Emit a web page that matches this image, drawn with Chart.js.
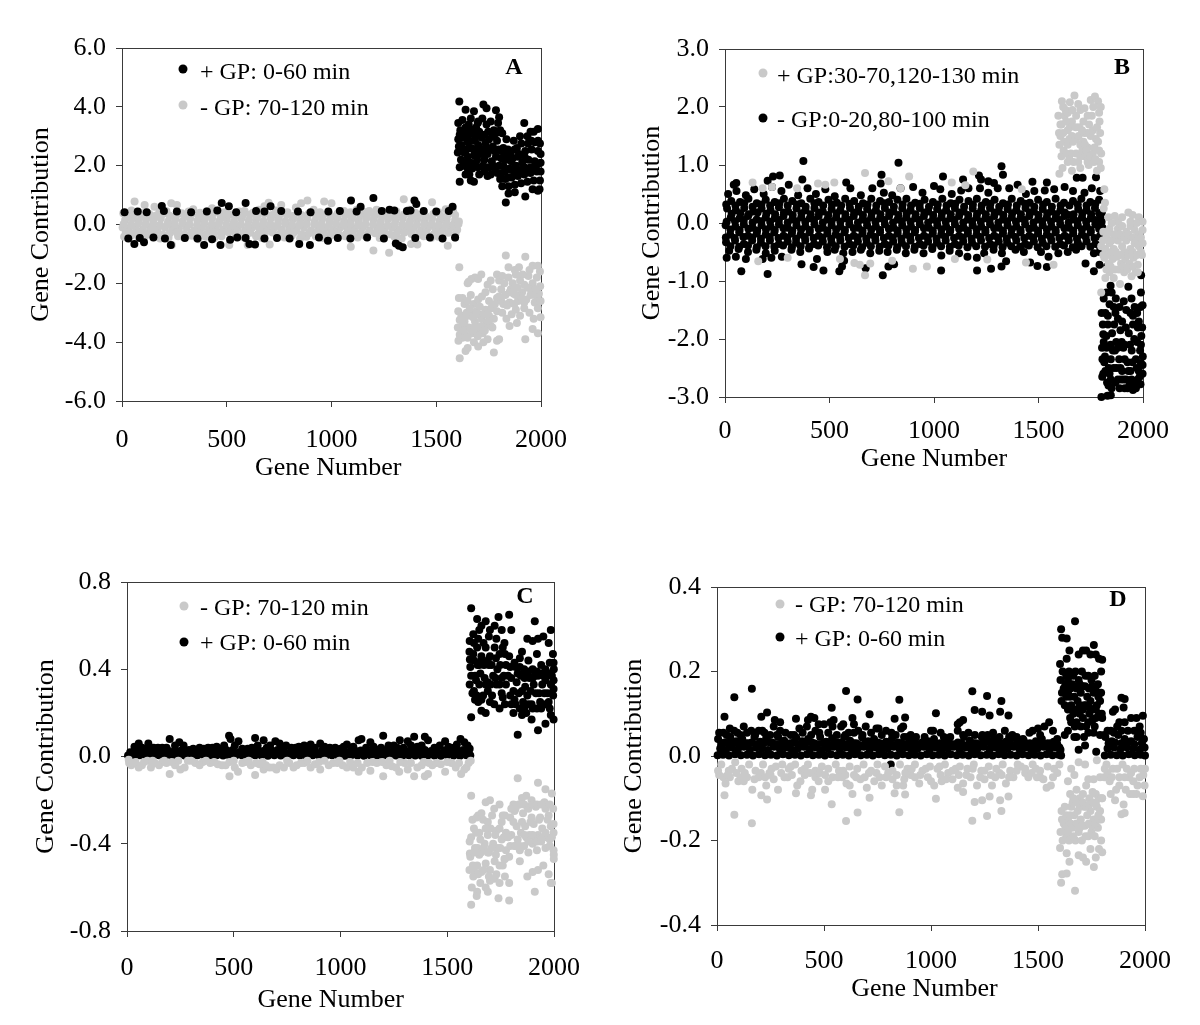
<!DOCTYPE html>
<html><head><meta charset="utf-8">
<script src="https://cdn.jsdelivr.net/npm/chart.js@4"></script>
<style>
html,body{margin:0;padding:0;background:#fff;width:1200px;height:1025px;overflow:hidden}
canvas{position:absolute}
.t{position:absolute;font-family:"Liberation Serif",serif;font-size:24px;color:#000;white-space:nowrap;line-height:26px;transform:translateY(-13px)}
.l{position:absolute;font-family:"Liberation Serif",serif;font-weight:bold;font-size:24px;color:#000;line-height:26px;transform:translate(-50%,-13px)}
.d{position:absolute;width:9px;height:9px;border-radius:50%;transform:translate(-50%,-50%)}
</style></head><body>
<script>
const xTicks=[0,500,1000,1500,2000];
const aTicks=[-6,-4,-2,0,2,4,6];
const bTicks=[-3,-2,-1,0,1,2,3];
const cTicks=[-0.8,-0.4,0,0.4,0.8];
const dTicks=[-0.4,-0.2,0,0.2,0.4];
// Panel A, + GP (black): flat x,y pairs
const aPlus=[190,.63,476,.73,510,.62,590,.73,709,.62,1093,.82,1200,.9,1139,.6,1277,.5,1396,.82,1405,.7,1377,.48,1578,.6,
12,.42,75,.44,118,.42,200,.46,262,.44,330,.42,405,.44,455,.48,545,.42,640,.46,680,.44,760,.46,840,.44,900,.42,985,.44,1040,.46,1120,.44,1240,.46,1300,.48,1360,.46,1440,.46,1500,.44,1560,.46,
59,-.66,105,-.6,233,-.7,392,-.7,470,-.7,608,-.66,635,-.68,846,-.66,897,-.7,1322,-.72,1340,-.77,1307,-.65,516,-.52,983,-.55,
30,-.48,85,-.46,150,-.44,205,-.48,300,-.46,360,-.48,430,-.5,550,-.44,590,-.46,680,-.48,740,-.46,800,-.48,940,-.44,1030,-.46,1090,-.48,1170,-.44,1250,-.48,1400,-.46,1470,-.44,1530,-.48,1590,-.44,
1610,4.18,1640,3.9,1665,3.6,1680,3.85,1700,3.5,1725,4.08,1740,3.95,1785,3.88,1800,3.65,1815,3.1,1605,3.45,1615,3.2,1625,3.55,1640,3.3,1655,3.4,1670,3.1,1690,3.3,1705,3.15,1720,3.6,1740,3.4,1760,3.5,1775,3.2,1795,3.45,
1605,2.9,1620,2.7,1635,2.95,1650,2.8,1668,2.6,1685,2.85,1700,2.7,1718,2.95,1735,2.75,1752,2.9,1770,2.65,1790,2.85,1810,2.5,1603,2.45,1618,2.2,1632,2.45,1650,2.3,1665,2.1,1680,2.35,1695,2.2,1712,2.4,1730,2.2,1745,2.4,1765,2.15,1785,2.3,
1612,1.45,1640,1.7,1650,1.9,1665,1.5,1680,1.45,1700,1.95,1730,1.8,1745,1.65,1760,1.7,1780,1.9,
1800,2,1820,2.6,1835,2.9,1855,2.4,1870,2.85,1885,2.6,1900,3,1920,3.45,1935,3,1950,3.15,1965,3.15,1985,3.25,1995,2.75,1805,1.55,1820,2,1835,2.2,1850,1.9,1865,2.25,1880,2,1895,2.4,1910,2.1,1925,2.5,1940,2.2,1955,2.55,1970,2.15,1985,2.5,1998,2.1,
1815,1.3,1830,1.55,1845,1.3,1860,1.6,1875,1.35,1890,1.65,1905,1.4,1920,1.7,1935,1.45,1950,1.75,1965,1.5,1980,1.8,1995,1.5,1832,.75,1845,1.05,1875,1.1,1925,.95,1960,1.2,1985,1.15,1993,1.2,
1612,3.05,1630,3.1,1648,3.05,1662,3.25,1682,3.05,1698,3.45,1712,3,1730,3.05,1748,3.15,1768,3,1785,3.1,1805,3.2,1608,2.65,1628,2.5,1645,2.55,1660,2.85,1678,2.55,1692,2.5,1708,2.55,1725,2.55,1742,2.6,1758,2.55,1778,2.5,1798,2.55,1612,1.95,1628,2,1642,2.1,1658,1.7,1672,1.9,1688,2,1705,1.7,1722,2,1738,1.95,1755,1.95,1772,2,1792,1.75,
1810,2.25,1826,2.35,1842,2.55,1858,2.15,1874,2.55,1890,2.3,1906,2.75,1922,2.3,1938,2.75,1954,2.85,1970,2.8,1986,2.85,1998,2.4,1812,1.75,1828,1.8,1844,1.6,1858,1.85,1874,1.8,1890,1.85,1904,1.85,1920,1.95,1936,1.9,1952,1.95,1968,1.85,1984,2.05,1998,1.8];
// Panel A, - GP (gray)
const aMinus=[6,.38,45,.48,60,.78,88,.4,108,.66,130,.36,155,.6,178,.42,212,.45,235,.72,262,.66,285,.38,318,.44,340,.52,372,.4,405,.46,430,.55,458,.48,488,.42,520,.34,560,.44,585,.46,625,.4,652,.5,680,.62,700,.74,735,.48,760,.66,790,.42,830,.58,855,.72,885,.82,915,.5,945,.42,965,.78,1000,.72,1030,.38,1060,.46,1090,.42,1120,.5,1150,.44,1180,.46,1215,.5,1245,.42,1280,.36,1310,.44,1345,.86,1370,.5,1400,.4,1440,.42,1480,.76,1510,.42,1545,.52,1580,.48,
15,.15,50,.2,80,.12,115,.18,150,.14,185,.2,220,.1,255,.18,290,.12,325,.2,360,.14,395,.16,430,.2,465,.12,500,.18,535,.1,570,.2,605,.14,640,.18,675,.12,710,.2,745,.16,780,.12,815,.18,850,.14,885,.2,920,.1,955,.18,990,.14,1025,.2,1060,.12,1095,.18,1130,.14,1165,.2,1200,.16,1235,.1,1270,.18,1305,.14,1340,.2,1375,.12,1410,.18,1445,.14,1480,.2,1515,.12,1550,.18,1590,.15,1608,.1,
3,-.1,30,-.14,66,-.1,100,-.18,135,-.12,170,-.16,205,-.1,240,-.18,272,-.14,308,-.1,345,-.2,380,-.12,415,-.16,448,-.1,482,-.18,518,-.14,552,-.12,588,-.2,622,-.1,658,-.16,692,-.14,728,-.1,762,-.18,798,-.12,832,-.16,868,-.1,902,-.2,938,-.14,972,-.12,1008,-.18,1042,-.1,1078,-.16,1112,-.14,1148,-.1,1182,-.2,1218,-.12,1252,-.16,1288,-.1,1322,-.18,1358,-.14,1392,-.12,1428,-.2,1462,-.1,1498,-.16,1532,-.14,1568,-.1,1600,-.18,
10,-.42,42,-.38,78,-.44,110,-.4,145,-.36,182,-.48,222,-.45,238,-.7,268,-.4,295,-.44,332,-.38,365,-.5,400,-.42,440,-.46,475,-.4,512,-.7,545,-.38,582,-.44,600,-.7,640,-.4,668,-.46,705,-.68,740,-.4,775,-.44,810,-.38,850,-.48,880,-.42,925,-.4,958,-.46,995,-.38,1030,-.44,1065,-.4,1092,-.76,1125,-.44,1160,-.38,1200,-.88,1230,-.46,1275,-.96,1300,-.42,1335,-.48,1380,-.66,1410,-.68,1440,-.4,1475,-.46,1510,-.42,1555,-.72,1590,-.45,
1610,-1.45,1625,-2.5,1650,-2,1668,-1.85,1685,-1.8,1715,-1.7,1760,-1.9,1790,-1.7,1800,-1.9,1832,-1.05,1845,-1.45,1875,-1.55,1895,-1.45,1925,-1.1,1960,-1.4,1985,-1.4,1995,-1.6,
1605,-2.95,1620,-3.1,1635,-2.7,1650,-2.6,1665,-2.4,1680,-2.7,1700,-2.55,1718,-2.45,1735,-2.3,1752,-2.6,1770,-2.2,1790,-2.5,1810,-2.2,1825,-2,1845,-1.8,1865,-2,1880,-1.7,1900,-1.9,1920,-2.05,1940,-1.75,1960,-2,1980,-1.8,1996,-2.1,
1603,-3.5,1618,-3.55,1635,-3.3,1650,-3.1,1668,-3,1685,-3.3,1700,-3.05,1718,-3.2,1735,-2.9,1752,-3.1,1770,-2.8,1790,-2.95,1810,-2.6,1830,-2.4,1850,-2.65,1870,-2.35,1890,-2.6,1910,-2.3,1930,-2.55,1950,-2.4,1970,-2.65,1990,-2.35,
1606,-3.95,1625,-3.85,1640,-3.75,1655,-3.5,1672,-3.7,1690,-3.65,1705,-3.5,1722,-3.7,1740,-3.4,1760,-3.45,1775,-3.2,1815,-3,1835,-3.2,1860,-3.05,1880,-2.9,1900,-3.1,1920,-2.85,1945,-3,1965,-3.2,1985,-2.85,1998,-3.15,
1612,-4.55,1640,-4.3,1650,-4.2,1680,-4,1700,-4.15,1725,-4,1745,-3.9,1775,-4.35,1790,-3.95,1800,-3.9,1850,-3.45,1885,-3.35,1925,-3.9,1960,-3.55,1985,-3.7,
1608,-2.5,1612,-3.25,1628,-3.4,1645,-3,1660,-2.85,1675,-3.15,1692,-2.95,1708,-2.8,1725,-3.05,1745,-3.05,1762,-2.85,1780,-2.7,1800,-2.45,1820,-2.7,1838,-2.75,1856,-2.2,1872,-2.7,1888,-2.15,1904,-2.45,1920,-2.65,1936,-2.15,1952,-2.2,1968,-2.4,1984,-2.6,1998,-2.6,1612,-3.75,1632,-3.6,1650,-3.85,1665,-3.55,1680,-3.5,1698,-3.8,1715,-3.45,1732,-3.6,1750,-3.3,1768,-3.5,1815,-1.75,1850,-2.3,1880,-2.4,1912,-1.7,1945,-1.55,1975,-2.2,1655,-1.95,1700,-1.85,1745,-2.05];
// Panel A, gray band interior, densely overlapping dots
const aMinusBand=[22,.3,58,.34,92,.28,126,.32,160,.3,196,.36,228,.3,262,.34,298,.28,332,.36,366,.3,400,.32,436,.38,470,.3,506,.34,540,.28,576,.32,610,.34,646,.3,680,.36,716,.32,750,.3,786,.34,820,.3,856,.32,890,.36,926,.28,960,.32,996,.3,1030,.26,1066,.32,1100,.3,1136,.34,1170,.32,1206,.3,1240,.3,1276,.28,1310,.32,1346,.34,1380,.3,1416,.32,1450,.28,1486,.36,1520,.3,1556,.34,1590,.32,
8,.02,44,-.01,78,.03,112,0,148,.02,182,-.02,218,.01,252,-.01,288,.03,322,0,358,-.02,392,.02,428,0,462,.03,498,-.01,532,.02,568,0,602,-.03,638,.02,672,0,708,.01,742,-.02,778,.03,812,0,848,-.01,882,.02,918,0,952,.01,988,-.02,1022,.03,1058,0,1092,.02,1128,-.01,1162,.01,1198,0,1232,.02,1268,-.03,1302,.01,1338,0,1372,.02,1408,-.01,1442,0,1478,.02,1512,-.02,1548,.01,1582,0,1606,.02,
18,-.28,54,-.3,88,-.26,124,-.32,158,-.28,194,-.34,228,-.3,262,-.27,298,-.32,332,-.28,368,-.3,402,-.33,438,-.28,472,-.3,508,-.26,542,-.32,578,-.3,612,-.28,648,-.33,682,-.3,718,-.27,752,-.32,788,-.3,822,-.26,858,-.33,892,-.3,928,-.28,962,-.32,998,-.27,1032,-.3,1068,-.33,1102,-.28,1138,-.3,1172,-.32,1208,-.3,1242,-.28,1278,-.33,1312,-.3,1348,-.27,1382,-.32,1418,-.3,1452,-.26,1488,-.33,1522,-.3,1558,-.28,1592,-.32];
// Panel B, + GP (gray)
const bPlus=[670,.86,1188,.89,881,.8,1085,.7,132,.7,523,.7,782,.72,225,.62,445,.68,480,.66,1150,.65,840,.6,345,.6,180,.6,1420,.58,
670,-.9,899,-.79,966,-.75,619,-.69,159,-.66,1572,-.72,645,-.72,695,-.7,550,-.62,300,-.6,800,-.65,1100,-.62,1440,-.68,1255,-.63,
1600,.85,1615,.95,1660,.9,1700,.95,1740,1,1780,.9,1790,1.05,1598,1.55,1620,1.25,1640,1.05,1680,1.2,1720,1.15,1760,1.2,1800,1.2,
1595,1.85,1612,2.1,1630,1.95,1650,2.08,1672,2.2,1700,1.95,1720,1.98,1750,2.12,1770,2.18,1785,2.1,1798,2,1610,1.7,1625,1.85,1640,1.6,1660,1.75,1680,1.85,1695,1.65,1715,1.75,1735,1.55,1755,1.85,1775,1.45,
1605,1.5,1622,1.4,1640,1.35,1660,1.5,1680,1.45,1700,1.35,1715,1.4,1735,1.3,1750,1.5,1768,1.3,1785,1.4,1600,1.35,1655,1.2,1700,1.15,1735,1.05,1765,1.05,1650,1.65,1720,1.55,1790,1.25,1795,1.55,
1815,.58,1818,.35,1812,.25,1835,.1,1865,.12,1880,.02,1930,.18,1950,.14,1980,.1,1998,.02,
1810,-.15,1825,-.25,1840,-.1,1860,-.2,1880,-.1,1900,-.05,1920,-.15,1940,-.05,1960,-.12,1980,-.2,1998,-.12,1800,-.4,1820,-.45,1840,-.35,1860,-.45,1880,-.3,1900,-.4,1920,-.3,1940,-.45,1960,-.35,1980,-.4,1998,-.35,
1815,-.6,1835,-.7,1855,-.62,1875,-.58,1895,-.7,1915,-.62,1935,-.7,1955,-.6,1975,-.72,1995,-.55,1820,-.95,1840,-.85,1860,-.95,1890,-1.05,1910,-.85,1945,-.92,1965,-.85,1800,-1.2,
1605,1.7,1618,1.55,1632,1.75,1648,1.45,1665,1.4,1678,1.65,1692,1.5,1708,1.6,1722,1.35,1742,1.7,1760,1.6,1780,1.65,1792,1.75,1610,1.15,1632,1.2,1648,1.1,1668,1.05,1690,1.05,1710,1.25,1728,1.25,1748,1.15,1772,1.1,1798,.95,1618,2,1640,1.9,1662,1.95,1690,2.05,1735,1.85,1762,2,1790,1.9,
1808,-.3,1830,-.15,1850,-.3,1870,-.2,1890,-.2,1910,-.25,1930,-.2,1950,-.25,1970,-.3,1990,-.25,1810,-.55,1830,-.55,1850,-.5,1870,-.5,1890,-.55,1910,-.5,1930,-.55,1950,-.5,1970,-.55,1990,-.5,1825,-.8,1845,-.75,1865,-.8,1885,-.8,1905,-.75,1925,-.8,1950,-.75,1975,-.85,1850,0,1900,.1,1940,.02,1970,0];
// Panel B, - GP (black)
const bMinus=[375,1.07,830,1.04,1323,.98,1330,.83,749,.83,745,.68,230,.8,262,.82,204,.73,370,.75,1043,.8,1215,.82,1225,.75,1260,.72,1287,.69,1139,.75,1471,.71,1540,.7,1683,.78,1711,.78,1775,.79,42,.66,54,.69,
78,-.83,204,-.88,366,-.71,424,-.76,471,-.82,547,-.83,673,-.78,755,-.9,782,-.75,809,-.71,1034,-.82,1206,-.82,1273,-.79,1323,-.75,1495,-.74,1540,-.76,1765,-.83,1792,-.72,1828,-.75,1991,-.9,
15,.5,55,.55,100,.48,140,.58,185,.5,225,.62,270,.55,305,.66,350,.48,395,.6,435,.5,480,.58,525,.46,580,.7,600,.6,650,.48,705,.6,760,.52,800,.48,840,.6,900,.62,945,.52,1000,.64,1030,.58,1085,.5,1130,.56,1165,.6,1220,.6,1260,.52,1305,.6,1360,.6,1400,.66,1440,.5,1480,.55,1530,.56,1575,.58,1625,.62,1665,.55,1720,.52,1755,.6,1795,.55,
30,.38,72,.36,112,.42,152,.34,195,.4,238,.36,282,.42,322,.38,365,.34,408,.42,448,.36,495,.4,535,.35,575,.42,618,.38,660,.34,700,.42,742,.38,785,.36,825,.4,868,.42,910,.35,955,.4,995,.36,1040,.42,1080,.34,1122,.4,1165,.38,1205,.42,1248,.36,1290,.4,1330,.34,1372,.42,1415,.38,1458,.35,1498,.4,1540,.36,1582,.42,1622,.35,1665,.38,1705,.42,1748,.36,1790,.4,
10,.25,52,.22,92,.26,135,.2,175,.25,218,.22,258,.27,302,.2,342,.25,385,.22,428,.26,468,.2,510,.24,552,.22,598,.26,638,.2,680,.24,722,.22,765,.26,806,.2,848,.25,888,.22,932,.26,972,.2,1015,.24,1058,.22,1100,.26,1142,.2,1185,.25,1226,.22,1268,.26,1310,.2,1352,.24,1394,.22,1438,.26,1478,.2,1520,.24,1562,.2,1605,.22,1645,.14,1690,.24,1730,.22,1770,.26,1803,.18,
28,.1,70,.08,110,.12,152,.06,195,.1,238,.08,280,.12,322,.06,365,.1,406,.08,448,.12,490,.06,532,.1,575,.08,616,.12,658,.06,700,.1,742,.08,785,.12,826,.06,868,.1,910,.08,952,.12,995,.06,1036,.1,1078,.08,1120,.12,1162,.06,1204,.1,1246,.08,1288,.12,1330,.06,1372,.1,1414,.08,1456,.12,1498,.06,1540,.1,1582,.08,1624,.12,1668,.06,1708,.1,1750,.08,1796,.1,
3,-.04,50,-.06,90,-.02,132,-.08,175,-.04,218,-.06,258,-.02,300,-.08,342,-.04,385,-.06,428,-.02,468,-.08,510,-.04,552,-.06,595,-.02,638,-.08,680,-.04,722,-.06,765,-.02,806,-.08,848,-.04,890,-.06,932,-.02,975,-.08,1016,-.04,1058,-.06,1100,-.02,1142,-.08,1185,-.04,1226,-.06,1268,-.02,1310,-.08,1352,-.04,1394,-.06,1436,-.02,1478,-.08,1520,-.04,1562,-.06,1604,-.02,1646,-.08,1688,-.04,1730,-.06,1772,-.02,1806,-.08,
25,-.2,68,-.16,110,-.22,152,-.18,195,-.2,236,-.16,280,-.22,320,-.18,362,-.2,405,-.16,448,-.22,490,-.18,530,-.2,572,-.16,616,-.22,658,-.18,698,-.2,742,-.16,784,-.22,826,-.18,868,-.2,908,-.16,952,-.22,994,-.18,1035,-.2,1076,-.16,1120,-.22,1162,-.18,1204,-.2,1246,-.16,1288,-.22,1330,-.18,1370,-.2,1414,-.16,1456,-.22,1498,-.18,1540,-.2,1582,-.16,1625,-.22,1666,-.18,1708,-.2,1750,-.16,1795,-.22,
5,-.33,48,-.3,90,-.36,130,-.3,172,-.34,215,-.3,258,-.36,300,-.32,340,-.34,384,-.3,426,-.36,468,-.32,510,-.34,552,-.3,595,-.36,636,-.32,678,-.34,720,-.3,764,-.36,805,-.32,846,-.34,888,-.3,932,-.36,972,-.32,1014,-.34,1056,-.3,1100,-.36,1140,-.32,1182,-.34,1225,-.3,1268,-.36,1310,-.32,1350,-.34,1394,-.3,1436,-.36,1478,-.32,1520,-.34,1562,-.3,1604,-.36,1645,-.3,1688,-.34,1730,-.32,1772,-.36,
20,-.48,8,-.6,65,-.45,52,-.58,110,-.5,100,-.62,150,-.46,195,-.52,180,-.62,238,-.48,222,-.6,272,-.58,318,-.46,360,-.5,402,-.44,440,-.62,490,-.5,525,-.46,566,-.52,570,-.65,560,-.75,610,-.5,650,-.46,695,-.52,738,-.48,778,-.5,822,-.46,865,-.52,906,-.46,950,-.52,992,-.45,1035,-.56,1075,-.48,1120,-.52,1160,-.58,1205,-.6,1240,-.52,1285,-.46,1325,-.52,1345,-.66,1390,-.46,1430,-.5,1460,-.68,1512,-.5,1548,-.58,1595,-.52,1640,-.5,1680,-.46,1725,-.7,1765,-.52,1792,-.5,
1801,-3,1830,-2.98,1846,-2.97,1805,-2.65,1815,-2.4,1810,-1.92,1802,-1.55,1825,-1.2,1845,-1.08,1870,-1.3,1930,-1.1,1945,-1.3,1990,-1.2,1998,-1.42,
1820,-1.55,1840,-1.4,1860,-1.45,1880,-1.65,1900,-1.7,1920,-1.5,1940,-1.55,1960,-1.45,1980,-1.7,1996,-1.8,1812,-2.05,1832,-1.75,1852,-1.9,1872,-2.05,1892,-1.85,1912,-2.1,1932,-1.9,1952,-1.75,1972,-2.05,1992,-1.95,
1806,-2.35,1826,-2.15,1846,-2.35,1866,-2.2,1886,-2.35,1906,-2.15,1926,-2.4,1946,-2.2,1966,-2.35,1986,-2.2,1999,-2.3,1820,-2.55,1840,-2.6,1860,-2.5,1880,-2.7,1900,-2.55,1920,-2.7,1940,-2.55,1960,-2.75,1980,-2.55,1998,-2.6,
1835,-2.8,1850,-2.85,1895,-2.7,1912,-2.85,1935,-2.8,1952,-2.88,1975,-2.7,1988,-2.78,
1812,-1.3,1832,-1.6,1850,-1.2,1868,-1.55,1888,-1.45,1908,-1.35,1952,-1.6,1972,-1.55,1988,-1.45,1808,-1.75,1825,-1.95,1845,-2.1,1862,-1.75,1880,-2.15,1898,-2.05,1918,-1.8,1938,-2.1,1958,-2,1975,-1.8,1990,-2.1,1804,-2.15,1818,-2.3,1836,-2.5,1856,-2.2,1874,-2.5,1892,-2.5,1912,-2.35,1930,-2.55,1950,-2.4,1970,-2.5,1990,-2.42,1810,-2.6,1828,-2.75,1846,-2.7,1868,-2.75,1888,-2.85,1908,-2.7,1926,-2.85,1945,-2.7,1966,-2.85,1984,-2.65,1998,-2.45];
// Panel B, black band interior
const bMinusBand=[6,.32,50,.3,92,.34,132,.28,174,.32,216,.3,260,.34,300,.3,344,.32,386,.28,428,.34,470,.3,512,.32,556,.3,596,.33,640,.28,682,.32,724,.3,764,.34,808,.28,850,.32,890,.3,932,.33,976,.28,1018,.32,1060,.3,1102,.33,1144,.28,1186,.32,1228,.3,1270,.33,1312,.28,1354,.32,1396,.3,1436,.33,1480,.28,1522,.32,1564,.28,1606,.3,1648,.3,1688,.32,1730,.3,1772,.33,
32,.16,74,.17,114,.15,156,.18,198,.16,240,.15,282,.18,324,.14,366,.17,410,.15,450,.18,494,.14,534,.17,576,.15,618,.18,660,.14,702,.17,744,.15,786,.18,830,.14,870,.17,912,.15,954,.18,996,.14,1038,.17,1080,.15,1122,.18,1164,.14,1206,.16,1248,.15,1290,.18,1332,.14,1374,.17,1416,.15,1458,.18,1500,.14,1542,.17,1584,.15,1626,.18,1668,.15,1710,.17,1752,.15,1790,.17,
8,.02,48,.03,90,.05,132,.01,174,.03,216,.02,258,.05,300,.01,342,.03,384,.02,426,.05,468,.01,510,.03,552,.02,594,.05,636,.01,678,.03,720,.02,762,.05,804,.01,846,.03,888,.02,930,.05,972,.01,1014,.03,1056,.02,1098,.05,1140,.01,1182,.03,1224,.02,1266,.05,1308,.01,1350,.03,1392,.02,1434,.05,1476,.01,1518,.03,1560,.02,1602,.05,1644,.01,1686,.03,1728,.02,1770,.05,1802,.02,
26,-.11,70,-.12,112,-.1,154,-.13,196,-.11,238,-.12,280,-.09,322,-.13,364,-.11,406,-.12,448,-.1,490,-.13,532,-.11,574,-.12,616,-.09,658,-.13,700,-.11,742,-.12,784,-.1,826,-.13,868,-.11,910,-.12,952,-.09,994,-.13,1036,-.11,1078,-.12,1120,-.1,1162,-.13,1204,-.11,1246,-.12,1288,-.09,1330,-.13,1372,-.11,1414,-.12,1456,-.1,1498,-.13,1540,-.11,1582,-.12,1624,-.09,1666,-.13,1708,-.11,1750,-.12,1790,-.1,
4,-.25,46,-.26,88,-.24,130,-.25,172,-.27,214,-.24,256,-.26,298,-.25,340,-.27,382,-.24,424,-.26,466,-.25,508,-.27,550,-.24,592,-.26,634,-.25,676,-.27,718,-.24,760,-.26,802,-.25,844,-.27,886,-.24,928,-.26,970,-.25,1012,-.27,1054,-.24,1096,-.26,1138,-.25,1180,-.27,1222,-.24,1264,-.26,1306,-.25,1348,-.27,1390,-.24,1432,-.26,1474,-.25,1516,-.27,1558,-.24,1600,-.26,1642,-.25,1684,-.27,1726,-.24,1768,-.26,1802,-.25,
26,-.4,68,-.41,110,-.39,152,-.42,194,-.4,236,-.41,278,-.39,320,-.42,362,-.4,404,-.41,446,-.39,488,-.42,530,-.4,572,-.41,614,-.39,656,-.42,698,-.4,740,-.41,782,-.39,824,-.42,866,-.4,908,-.41,950,-.39,992,-.42,1034,-.4,1076,-.41,1118,-.39,1160,-.42,1202,-.4,1244,-.41,1286,-.39,1328,-.42,1370,-.4,1412,-.41,1454,-.39,1496,-.42,1538,-.4,1580,-.41,1622,-.39,1664,-.42,1706,-.4,1748,-.41,1790,-.39];
// Panel C, - GP (gray)
const cMinus=[8,-.015,40,-.025,70,-.04,95,-.02,130,-.03,165,-.025,200,-.08,225,-.04,250,-.06,285,-.02,320,-.03,355,-.025,390,-.03,425,-.035,462,-.04,480,-.09,505,-.05,520,-.07,555,-.025,600,-.085,640,-.06,668,-.05,700,-.06,735,-.05,760,-.03,795,-.04,830,-.03,860,-.05,905,-.06,945,-.04,985,-.03,1030,-.05,1085,-.07,1100,-.05,1140,-.065,1200,-.09,1170,-.03,1240,-.045,1275,-.07,1315,-.06,1345,-.09,1380,-.04,1395,-.09,1410,-.08,1450,-.03,1490,-.07,1540,-.05,1565,-.08,1590,-.05,
20,-.04,55,-.05,112,-.05,150,-.04,185,-.03,270,-.05,340,-.04,408,-.025,445,-.04,540,-.03,580,-.04,620,-.035,650,-.04,685,-.05,715,-.04,780,-.05,815,-.03,880,-.035,925,-.02,965,-.03,1010,-.04,1060,-.05,1125,-.03,1215,-.04,1260,-.05,1300,-.03,1360,-.05,1430,-.04,1470,-.035,1520,-.03,1580,-.06,1600,-.03,
10,-.03,30,-.03,80,-.025,120,-.02,175,-.02,210,-.025,240,-.02,300,-.02,370,-.02,480,-.025,500,-.02,570,-.02,605,-.03,635,-.025,750,-.02,845,-.02,900,-.025,995,-.02,1045,-.025,1080,-.03,1150,-.025,1195,-.025,1230,-.02,1280,-.025,1330,-.03,1390,-.025,1415,-.03,1500,-.025,1555,-.03,1610,-.02,
1612,-.18,1620,-.5,1645,-.27,1680,-.21,1700,-.2,1745,-.22,1770,-.27,1810,-.22,1830,-.1,1850,-.19,1870,-.18,1895,-.2,1925,-.12,1960,-.15,1990,-.17,
1605,-.39,1625,-.33,1650,-.35,1668,-.29,1690,-.36,1710,-.27,1730,-.34,1755,-.3,1775,-.35,1795,-.28,1815,-.25,1835,-.22,1855,-.26,1875,-.23,1895,-.28,1915,-.23,1935,-.28,1955,-.21,1975,-.27,1996,-.24,
1608,-.46,1630,-.42,1650,-.45,1675,-.4,1695,-.44,1715,-.4,1735,-.42,1755,-.38,1775,-.43,1800,-.36,1825,-.32,1845,-.35,1865,-.32,1885,-.36,1905,-.31,1925,-.36,1945,-.33,1965,-.37,1985,-.32,1998,-.35,
1604,-.52,1622,-.55,1640,-.5,1660,-.53,1680,-.49,1700,-.52,1722,-.48,1745,-.5,1768,-.47,1790,-.46,1815,-.41,1840,-.43,1860,-.41,1880,-.44,1900,-.4,1920,-.43,1940,-.39,1960,-.42,1980,-.41,1999,-.45,
1615,-.6,1640,-.62,1655,-.58,1680,-.6,1700,-.57,1722,-.56,1745,-.58,1770,-.55,1790,-.58,1840,-.48,1875,-.55,1900,-.53,1925,-.52,1950,-.5,1975,-.54,1990,-.58,1999,-.47,
1612,-.68,1638,-.64,1690,-.62,1740,-.65,1790,-.66,1910,-.62,1985,-.58,
1606,-.445,1625,-.44,1642,-.42,1658,-.44,1672,-.42,1690,-.44,1708,-.42,1728,-.45,1748,-.42,1770,-.47,1795,-.41,1612,-.37,1635,-.35,1655,-.38,1680,-.33,1703,-.33,1725,-.36,1745,-.33,1765,-.37,1785,-.37,1810,-.3,1830,-.38,1850,-.3,1870,-.37,1890,-.3,1910,-.37,1930,-.29,1950,-.37,1970,-.29,1990,-.37,1618,-.29,1638,-.28,1660,-.26,1690,-.3,1720,-.24,1760,-.27,1800,-.24,1820,-.24,1840,-.22,1860,-.22,1880,-.24,1900,-.22,1920,-.22,1940,-.22,1960,-.24,1980,-.22,1998,-.31,1625,-.52,1645,-.54,1670,-.52,1695,-.55,1730,-.54,1760,-.5,1820,-.41,1840,-.41,1862,-.36,1880,-.39,1900,-.36,1920,-.39,1940,-.38,1960,-.35,1980,-.38,1998,-.43];
// Panel C, + GP (black)
const cPlus=[5,.005,30,.004,60,.006,90,.005,120,.004,150,.006,180,.005,210,.004,240,.006,270,.005,300,.004,330,.006,360,.005,390,.004,420,.006,450,.005,480,.004,510,.006,540,.005,570,.004,600,.006,630,.005,660,.004,690,.006,720,.005,750,.004,780,.006,810,.005,840,.004,870,.006,900,.005,930,.004,960,.006,990,.005,1020,.004,1050,.006,1080,.005,1110,.004,1140,.006,1170,.005,1200,.004,1230,.006,1260,.005,1290,.004,1320,.006,1350,.005,1380,.004,1410,.006,1440,.005,1470,.004,1500,.006,1530,.005,1560,.004,1590,.006,1608,.005,
15,.02,45,.025,75,.018,105,.03,135,.02,165,.022,195,.025,225,.03,255,.028,285,.015,315,.018,345,.02,375,.022,405,.025,435,.028,465,.03,495,.03,525,.02,555,.018,585,.02,615,.03,645,.028,675,.03,705,.03,735,.025,765,.02,795,.022,825,.028,855,.03,885,.018,915,.03,945,.02,975,.018,1005,.025,1035,.02,1065,.03,1095,.028,1125,.02,1155,.025,1185,.018,1215,.03,1245,.022,1275,.028,1305,.025,1335,.03,1365,.02,1395,.03,1425,.025,1455,.02,1485,.028,1515,.02,1545,.03,1575,.03,1600,.02,
35,.045,55,.06,70,.04,100,.06,125,.04,165,.04,200,.08,225,.05,245,.065,265,.05,340,.04,380,.04,420,.045,455,.05,478,.095,485,.08,505,.05,522,.07,600,.085,612,.05,640,.075,670,.05,695,.07,715,.06,745,.05,770,.04,830,.05,860,.055,905,.06,950,.04,1000,.035,1030,.055,1060,.045,1085,.075,1098,.08,1140,.065,1200,.095,1170,.03,1225,.05,1250,.05,1278,.075,1315,.07,1345,.09,1330,.05,1395,.09,1410,.075,1440,.04,1490,.07,1520,.04,1545,.055,1562,.08,1580,.065,1595,.05,
85,.035,145,.04,185,.04,290,.03,310,.035,360,.035,400,.04,435,.035,540,.035,565,.035,585,.04,655,.04,730,.04,790,.04,805,.045,845,.045,880,.04,925,.045,975,.04,1015,.045,1050,.04,1120,.04,1155,.045,1190,.04,1265,.04,1295,.04,1360,.045,1380,.05,1465,.05,1505,.045,1535,.04,1605,.035,
1612,.68,1640,.63,1660,.6,1680,.62,1740,.64,1790,.65,1910,.62,1985,.58,1605,.53,1622,.56,1650,.58,1700,.58,1722,.6,1755,.58,1800,.58,1850,.48,1875,.54,1900,.53,1925,.54,1950,.55,1975,.52,1995,.47,
1604,.48,1622,.47,1640,.5,1660,.46,1680,.5,1700,.46,1722,.5,1745,.47,1768,.52,1790,.46,1815,.43,1840,.45,1860,.4,1880,.44,1900,.4,1920,.47,1940,.42,1960,.4,1980,.43,1999,.4,
1608,.41,1630,.37,1650,.42,1675,.36,1695,.42,1715,.37,1735,.4,1755,.36,1775,.42,1800,.36,1825,.34,1845,.37,1865,.32,1885,.36,1905,.33,1925,.37,1945,.33,1965,.37,1985,.33,1998,.35,
1605,.33,1625,.3,1650,.33,1668,.28,1690,.34,1710,.28,1730,.33,1755,.29,1775,.33,1795,.28,1815,.26,1835,.29,1855,.25,1875,.28,1895,.24,1915,.29,1935,.25,1955,.29,1975,.25,1996,.28,
1612,.18,1630,.26,1645,.25,1660,.21,1680,.2,1700,.25,1745,.22,1770,.24,1810,.2,1830,.1,1850,.19,1870,.2,1895,.17,1925,.12,1960,.15,1985,.19,1998,.17,
1606,.445,1625,.44,1642,.42,1658,.44,1672,.42,1690,.44,1708,.42,1728,.45,1748,.42,1770,.47,1795,.41,1612,.37,1635,.35,1655,.38,1680,.33,1703,.33,1725,.36,1745,.33,1765,.37,1785,.37,1810,.3,1830,.38,1850,.3,1870,.37,1890,.3,1910,.37,1930,.29,1950,.37,1970,.29,1990,.37,1618,.29,1638,.28,1660,.26,1690,.3,1720,.24,1760,.27,1800,.24,1820,.24,1840,.22,1860,.22,1880,.24,1900,.22,1920,.22,1940,.22,1960,.24,1980,.22,1998,.31,1625,.52,1645,.54,1670,.52,1695,.55,1730,.54,1760,.5,1820,.41,1840,.41,1862,.36,1880,.39,1900,.36,1920,.39,1940,.38,1960,.35,1980,.38,1998,.43];
// Panel D, - GP (gray)
const dMinus=[81,-.139,163,-.159,536,-.114,603,-.154,657,-.134,713,-.099,852,-.133,1023,-.101,1193,-.153,1262,-.142,1329,-.13,1323,-.105,1362,-.096,1204,-.109,1239,-.105,1274,-.096,633,-.09,35,-.093,234,-.103,207,-.093,439,-.093,830,-.088,879,-.091,369,-.088,1150,-.085,1125,-.075,870,-.07,1000,-.06,
5,-.035,40,-.065,70,-.03,100,-.06,130,-.04,165,-.08,195,-.05,230,-.07,255,-.03,285,-.08,315,-.05,345,-.025,375,-.07,410,-.045,445,-.08,475,-.06,505,-.08,540,-.05,570,-.035,605,-.065,640,-.045,670,-.055,700,-.075,735,-.06,770,-.07,800,-.04,840,-.07,875,-.055,905,-.045,945,-.065,975,-.03,1015,-.07,1050,-.06,1080,-.04,1115,-.03,1150,-.065,1185,-.05,1215,-.07,1250,-.055,1285,-.07,1320,-.04,1350,-.065,1385,-.05,1420,-.025,1455,-.05,1490,-.03,1525,-.055,1560,-.07,1590,-.04,
20,-.02,55,-.035,85,-.015,115,-.03,150,-.02,180,-.035,215,-.02,245,-.04,275,-.025,305,-.02,335,-.03,365,-.02,395,-.035,425,-.02,460,-.035,490,-.025,520,-.03,555,-.02,590,-.035,620,-.025,655,-.03,685,-.02,720,-.035,750,-.02,785,-.025,820,-.035,855,-.02,890,-.03,925,-.02,960,-.035,995,-.025,1030,-.03,1065,-.02,1100,-.035,1135,-.025,1170,-.03,1200,-.02,1235,-.035,1270,-.025,1305,-.03,1335,-.02,1370,-.035,1405,-.02,1440,-.03,1475,-.02,1510,-.035,1545,-.025,1575,-.03,1600,-.02,
60,-.05,125,-.06,175,-.055,265,-.055,330,-.05,390,-.06,460,-.05,520,-.06,585,-.05,620,-.07,690,-.05,760,-.05,820,-.055,925,-.05,1045,-.045,1100,-.055,1165,-.045,1230,-.05,1300,-.05,1440,-.04,1510,-.05,1540,-.075,
10,-.045,30,-.05,50,-.045,90,-.04,110,-.05,140,-.05,205,-.04,225,-.05,250,-.045,300,-.04,350,-.045,410,-.03,435,-.04,480,-.04,505,-.045,565,-.05,600,-.045,650,-.05,710,-.04,745,-.04,790,-.05,840,-.045,880,-.04,910,-.03,950,-.045,985,-.05,1040,-.025,1070,-.055,1130,-.045,1195,-.03,1250,-.035,1280,-.045,1330,-.045,1365,-.05,1400,-.035,1470,-.04,1495,-.05,1570,-.05,
1608,-.3,1613,-.28,1634,-.278,1673,-.319,1647,-.25,1761,-.263,1634,-.23,1603,-.218,1690,-.235,1710,-.24,1725,-.25,1745,-.22,1770,-.24,1785,-.22,1800,-.228,1795,-.2,
1610,-.13,1620,-.16,1632,-.19,1645,-.2,1660,-.17,1675,-.2,1690,-.18,1705,-.2,1720,-.165,1735,-.19,1750,-.18,1765,-.19,1780,-.17,1795,-.15,1605,-.18,1625,-.12,1640,-.15,1655,-.12,1670,-.14,1685,-.13,1700,-.15,1715,-.12,1730,-.14,1745,-.13,1760,-.15,1775,-.12,1790,-.13,
1650,-.09,1665,-.1,1680,-.08,1695,-.1,1710,-.09,1725,-.07,1740,-.1,1755,-.085,1770,-.09,1785,-.1,1800,-.1,1640,-.06,1655,-.03,1670,-.045,1690,-.015,1720,-.02,1735,-.055,1760,-.055,1775,-.01,1790,-.05,1810,-.05,
1820,-.02,1835,-.06,1850,-.03,1865,-.08,1880,-.05,1890,-.138,1900,-.115,1905,-.135,1860,-.105,1840,-.09,1915,-.03,1930,-.09,1945,-.06,1960,-.09,1975,-.05,1990,-.095,1998,-.07,1825,-.04,1870,-.03,1895,-.02,1925,-.05,1950,-.03,1980,-.03,2000,-.03,1812,-.03,1845,-.05,1880,-.07,1905,-.05,1935,-.04,1965,-.07,1992,-.045,1910,-.08,1945,-.09,
1615,-.2,1628,-.17,1640,-.18,1652,-.16,1665,-.19,1680,-.16,1695,-.17,1708,-.165,1722,-.19,1738,-.16,1752,-.165,1768,-.16,1785,-.15,1612,-.15,1632,-.14,1650,-.14,1662,-.11,1678,-.11,1695,-.12,1710,-.11,1725,-.12,1740,-.115,1755,-.11,1770,-.11,1782,-.14,1798,-.1];
// Panel D, + GP (black)
const dPlus=[81,.139,163,.159,536,.114,603,.154,657,.134,713,.099,852,.133,1023,.101,1193,.153,1262,.142,1329,.13,1323,.105,1362,.096,1204,.109,1239,.105,1274,.096,633,.09,35,.093,234,.103,207,.093,439,.093,830,.088,879,.091,369,.088,1150,.085,1125,.075,870,.07,1000,.06,
3,.002,28,.003,56,.001,84,.004,112,.002,140,.003,168,.001,196,.004,224,.002,252,.003,280,.001,308,.004,336,.002,364,.003,392,.001,420,.004,448,.002,476,.003,504,.001,532,.004,560,.002,588,.003,616,.001,644,.004,672,.002,700,.003,728,.001,756,.004,784,.002,812,.003,812,-.02,840,.001,868,.004,896,.002,924,.003,952,.001,980,.004,1008,.002,1036,.003,1064,.001,1092,.004,1120,.002,1148,.003,1176,.001,1204,.004,1232,.002,1260,.003,1288,.001,1316,.004,1344,.002,1372,.003,1400,.001,1428,.004,1456,.002,1484,.003,1512,.001,1540,.004,1568,.002,1596,.003,1608,.001,1812,.001,1840,.003,1868,.002,1896,.001,1924,.004,1952,.002,1980,.003,2000,.001,
15,.018,42,.014,70,.02,98,.016,126,.022,154,.015,182,.02,210,.018,238,.014,266,.022,294,.016,322,.02,350,.015,378,.018,406,.022,434,.016,462,.02,490,.014,518,.018,546,.022,574,.016,602,.02,630,.015,658,.018,686,.022,714,.016,742,.02,770,.014,798,.018,826,.022,854,.016,882,.02,910,.015,938,.018,966,.022,994,.016,1022,.02,1050,.014,1078,.018,1106,.022,1134,.016,1162,.02,1190,.015,1218,.018,1246,.022,1274,.016,1302,.02,1330,.014,1358,.018,1386,.022,1414,.016,1442,.02,1470,.015,1498,.018,1526,.022,1554,.016,1582,.02,1605,.015,1825,.018,1855,.02,1885,.016,1915,.02,1945,.018,1975,.015,1998,.02,
5,.04,35,.032,62,.045,90,.035,118,.04,146,.03,175,.045,202,.034,230,.042,258,.032,286,.045,314,.036,342,.03,370,.044,398,.035,426,.04,454,.03,482,.045,510,.034,538,.042,566,.032,594,.045,622,.036,650,.03,678,.044,706,.035,734,.04,762,.03,790,.034,818,.042,846,.032,874,.045,902,.036,930,.03,958,.032,986,.035,1014,.04,1042,.03,1070,.034,1098,.028,1126,.032,1154,.045,1182,.036,1210,.03,1238,.044,1266,.035,1294,.04,1322,.03,1350,.034,1378,.042,1406,.032,1434,.036,1462,.03,1490,.035,1518,.04,1546,.03,1574,.034,1815,.045,1845,.035,1875,.05,1905,.04,1935,.035,1965,.045,1995,.04,
22,.028,50,.03,78,.032,106,.028,134,.03,162,.032,190,.028,218,.03,246,.032,274,.028,302,.03,330,.026,358,.032,386,.028,414,.03,442,.032,470,.028,498,.03,526,.026,554,.03,582,.032,610,.028,638,.03,666,.026,694,.03,722,.028,750,.032,778,.028,806,.03,834,.026,862,.03,890,.028,918,.03,946,.026,974,.028,1002,.03,1030,.028,1058,.026,1086,.03,1114,.028,1142,.03,1170,.026,1198,.03,1226,.028,1254,.032,1282,.026,1310,.03,1338,.028,1366,.03,1394,.026,1422,.03,1450,.028,1478,.026,1506,.03,1534,.028,1562,.03,1590,.028,1830,.03,1860,.032,1890,.03,1920,.032,1950,.028,1985,.03,
10,.055,45,.05,80,.06,110,.05,140,.055,178,.05,212,.06,248,.05,280,.05,320,.055,360,.05,400,.055,440,.05,478,.055,520,.055,560,.05,600,.05,640,.055,680,.05,720,.055,770,.05,835,.05,890,.045,930,.045,970,.045,1060,.045,1090,.045,1150,.05,1205,.05,1265,.05,1320,.045,1365,.045,1430,.04,1510,.05,1590,.04,1825,.06,1855,.055,1890,.06,1920,.06,1950,.06,1980,.055,
30,.055,60,.065,95,.055,125,.07,160,.06,195,.06,222,.055,265,.07,295,.06,345,.05,385,.065,420,.07,460,.06,500,.075,540,.07,580,.07,615,.055,660,.06,695,.07,755,.065,790,.06,815,.055,860,.065,905,.05,1010,.06,1045,.055,1125,.06,1175,.055,1240,.05,1290,.055,1345,.06,1380,.05,1460,.055,1500,.065,1530,.07,1552,.08,1570,.06,
270,.085,295,.08,425,.085,455,.09,475,.075,530,.08,545,.085,590,.075,640,.075,745,.065,1135,.08,1400,.045,1475,.06,1840,.06,1870,.07,1905,.08,1935,.09,1960,.09,1990,.095,1850,.105,1860,.11,1890,.138,1900,.115,1905,.135,1880,.08,1975,.07,
1608,.3,1613,.28,1634,.278,1673,.319,1647,.25,1761,.263,1634,.23,1603,.218,1690,.24,1710,.25,1725,.25,1745,.24,1770,.24,1785,.23,1800,.228,1795,.2,
1610,.13,1620,.16,1632,.19,1645,.2,1660,.17,1675,.2,1690,.18,1705,.2,1720,.165,1735,.19,1750,.18,1765,.19,1780,.17,1795,.15,1605,.18,1625,.12,1640,.15,1655,.12,1670,.14,1685,.13,1700,.15,1715,.12,1730,.14,1745,.13,1760,.15,1775,.12,1790,.13,
1650,.09,1665,.1,1680,.08,1695,.1,1710,.09,1725,.07,1740,.1,1755,.085,1770,.09,1785,.1,1800,.09,1640,.06,1625,.05,1670,.045,1690,.015,1720,.025,1735,.055,1760,.055,1772,.01,1790,.05,1810,.05,1600,.02,1680,.045,1715,.045,
1615,.2,1628,.17,1640,.18,1652,.16,1665,.19,1680,.16,1695,.17,1708,.165,1722,.19,1738,.16,1752,.165,1768,.16,1785,.15,1612,.15,1632,.14,1650,.14,1662,.11,1678,.11,1695,.12,1710,.11,1725,.12,1740,.115,1755,.11,1770,.11,1782,.14,1798,.1,1640,.11,1655,.08,1672,.07,1700,.07,1735,.08,1765,.07];

const panels=[
 {id:'A',ticks:aTicks,first:[aPlus,'#000'],second:[aMinus.concat(aMinusBand),'#c9c9c9'],plot:[122,48,541,401],titleX:41,numY:468,tickPad:18,xTail:' ',
  legend:[[183,69,'#000',200,71,'+ GP: 0-60 min'],[183,105,'#c9c9c9',200,107,'- GP: 70-120 min']],letter:[514,66]},
 {id:'B',ticks:bTicks,first:[bPlus,'#c9c9c9'],second:[bMinus.concat(bMinusBand),'#000'],plot:[725,49,1143,397],titleX:652,numY:459,tickPad:13,xTail:'',
  legend:[[763,73,'#c9c9c9',777,75,'+ GP:30-70,120-130 min'],[763,118,'#000',777,119,'- GP:0-20,80-100 min']],letter:[1122,66]},
 {id:'C',ticks:cTicks,first:[cMinus,'#c9c9c9'],second:[cPlus,'#000'],plot:[127,582,554,931],titleX:46,numY:1000,tickPad:16,xTail:'   ',
  legend:[[184,606,'#c9c9c9',200,607,'- GP: 70-120 min'],[184,642,'#000',200,642,'+ GP: 0-60 min']],letter:[525,595]},
 {id:'D',ticks:dTicks,first:[dMinus,'#c9c9c9'],second:[dPlus,'#000'],plot:[717,587,1145,925],titleX:634,numY:989,tickPad:15,xTail:'  ',
  legend:[[780,604,'#c9c9c9',795,604,'- GP: 70-120 min'],[780,637,'#000',795,638,'+ GP: 0-60 min']],letter:[1118,598]}
];
const toPoints=f=>{const o=[];for(let i=0;i+1<f.length;i+=2)o.push({x:f[i],y:f[i+1]});return o;};
const serif='"Liberation Serif", serif';
const box={id:'box',beforeDatasetsDraw(c){const a=c.chartArea,g=c.ctx;g.save();g.strokeStyle='#3a3a3a';g.lineWidth=1;g.strokeRect(a.left+.5,a.top+.5,a.right-a.left,a.bottom-a.top);g.restore();}};
const noPad=s=>{s.paddingLeft=s.paddingRight=s.paddingTop=s.paddingBottom=0;};
function addDiv(cls,css,text){const e=document.createElement('div');e.className=cls;Object.assign(e.style,css);if(text)e.textContent=text;document.body.appendChild(e);}
panels.forEach(p=>{
 const [pl,pt,pr,pb]=p.plot;
 const left=Math.round(p.titleX-15),top=pt-14,right=pr+34,bottom=p.numY+16;
 const cv=document.createElement('canvas');
 cv.width=right-left;cv.height=bottom-top;cv.style.left=left+'px';cv.style.top=top+'px';
 document.body.appendChild(cv);
 const ds=s=>({data:toPoints(s[0]),backgroundColor:s[1],borderColor:s[1],pointRadius:4,borderWidth:0,clip:false});
 new Chart(cv,{type:'scatter',plugins:[box],
  data:{datasets:[ds(p.first),ds(p.second)]},
  options:{responsive:false,animation:false,
   layout:{autoPadding:false,padding:{top:14,right:34,left:0,bottom:0}},
   plugins:{legend:{display:false},tooltip:{enabled:false}},
   scales:{
    x:{type:'linear',min:0,max:2000,
      afterBuildTicks:a=>{a.ticks=xTicks.map(v=>({value:v}));},
      afterFit:s=>{s.height=bottom-pb;noPad(s);},
      grid:{drawOnChartArea:false,drawTicks:true,tickLength:6,color:'#3a3a3a',tickColor:'#3a3a3a'},border:{color:'#3a3a3a'},
      ticks:{font:{family:serif,size:26},color:'#000',padding:p.tickPad,maxRotation:0,autoSkip:false,callback:v=>String(v)},
      title:{display:true,text:'Gene Number'+p.xTail,font:{family:serif,size:26},color:'#000',padding:0}},
    y:{type:'linear',min:p.ticks[0],max:p.ticks[p.ticks.length-1],
      afterBuildTicks:a=>{a.ticks=p.ticks.map(v=>({value:v}));},
      afterFit:s=>{s.width=pl-left;noPad(s);},
      grid:{drawOnChartArea:false,drawTicks:true,tickLength:6,color:'#3a3a3a',tickColor:'#3a3a3a'},border:{color:'#3a3a3a'},
      ticks:{font:{family:serif,size:26},color:'#000',padding:10,autoSkip:false,callback:v=>Number(v).toFixed(1)},
      title:{display:true,text:'Gene Contribution',font:{family:serif,size:26},color:'#000',padding:0}}
   }}});
 p.legend.forEach(l=>{
  addDiv('d',{left:l[0]+'px',top:l[1]+'px',background:l[2]});
  addDiv('t',{left:l[3]+'px',top:l[4]+'px'},l[5]);
 });
 addDiv('l',{left:p.letter[0]+'px',top:p.letter[1]+'px'},p.id);
});
</script>
</body></html>
